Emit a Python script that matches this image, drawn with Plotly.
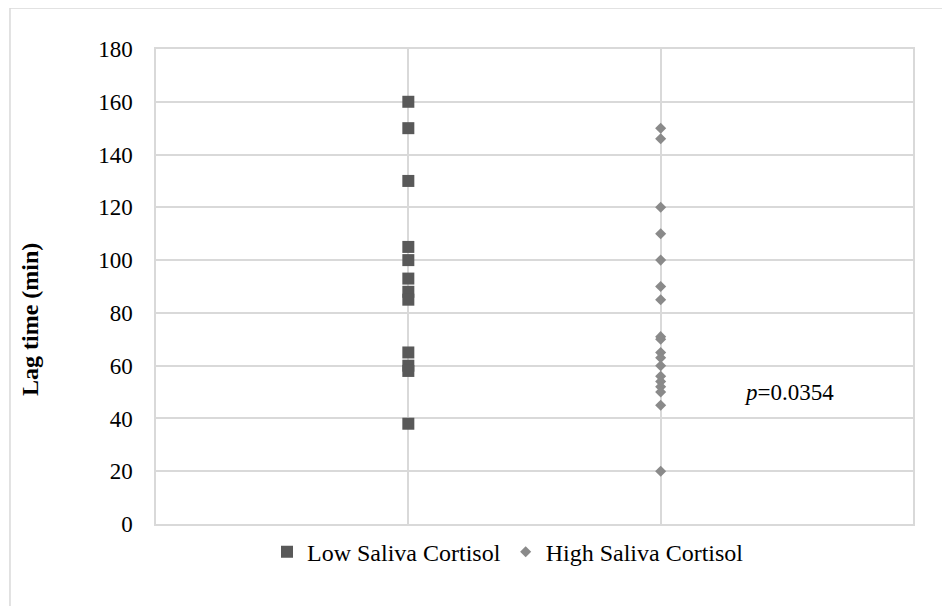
import plotly.graph_objects as go

low_y = [160, 150, 130, 105, 100, 93, 88, 85, 65, 60, 58, 38]
low_x = [1] * len(low_y)
high_y = [150, 146, 120, 110, 100, 90, 85, 71, 70, 65, 63, 60, 56, 54, 52, 50, 45, 20]
high_x = [2] * len(high_y)
y_ticks = [0, 20, 40, 60, 80, 100, 120, 140, 160, 180]

FONT = "Liberation Serif"
GRID = "#d9d9d9"

fig = go.Figure()
fig.add_trace(go.Scatter(
    x=low_x, y=low_y, mode="markers", name="Low Saliva Cortisol",
    marker=dict(symbol="square", size=12, color="#595959"),
))
fig.add_trace(go.Scatter(
    x=high_x, y=high_y, mode="markers", name="High Saliva Cortisol",
    marker=dict(symbol="diamond", size=8.5, color="#8a8a8a"),
))

fig.update_layout(
    width=950, height=606,
    margin=dict(l=148, r=45, t=41, b=90),
    paper_bgcolor="white", plot_bgcolor="white",
    font=dict(family=FONT, size=23, color="#000000"),
    showlegend=True,
    legend=dict(orientation="h", x=0.465, xanchor="center", y=-0.012, yanchor="top",
                font=dict(family=FONT, size=24, color="#000000"), itemwidth=30),
    xaxis=dict(range=[0, 3], dtick=1, showticklabels=False, showgrid=True,
               gridcolor=GRID, gridwidth=1.5, zeroline=False, showline=True,
               linecolor=GRID, linewidth=1.5, mirror=True, ticks=""),
    yaxis=dict(range=[0, 180], tickvals=y_ticks, showgrid=True, gridcolor=GRID,
               gridwidth=1.5, zeroline=False, showline=True, linecolor=GRID,
               linewidth=1.5, mirror=True, ticks="", ticklabelstandoff=17,
               tickfont=dict(family=FONT, size=23, color="#000000")),
    annotations=[
        dict(text="<b>Lag time (min)</b>", textangle=-90, xref="paper", yref="paper",
             x=-0.186, y=0.43, showarrow=False,
             font=dict(family=FONT, size=24, color="#000000")),
        dict(text="<i>p</i>=0.0354", xref="x", yref="y", x=2.51, y=50,
             showarrow=False, font=dict(family=FONT, size=23, color="#000000")),
    ],
    shapes=[
        dict(type="rect", xref="paper", yref="paper", x0=-0.1929, x1=1.06,
             y0=-0.2, y1=1.0863, line=dict(color=GRID, width=1.5)),
    ],
)

fig.write_html("out.html")
